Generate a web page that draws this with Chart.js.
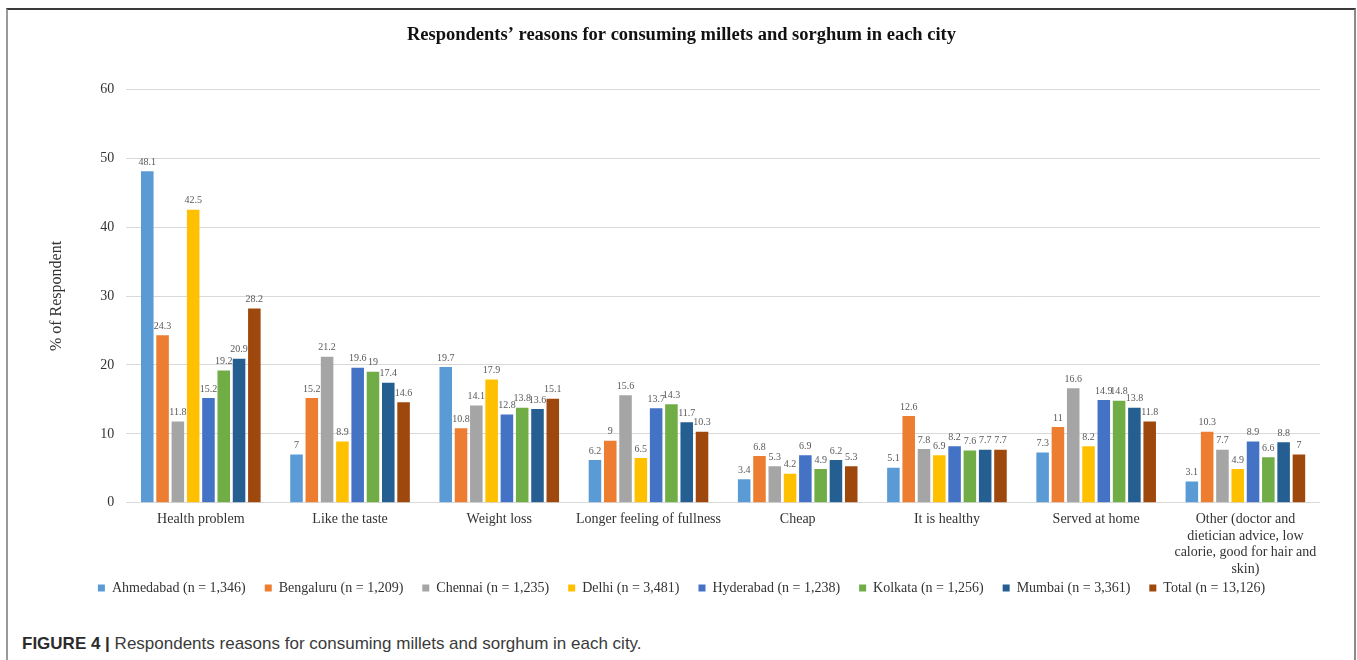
<!DOCTYPE html>
<html>
<head>
<meta charset="utf-8">
<title>Millets and sorghum consumption</title>
<script src="https://cdn.jsdelivr.net/npm/chart.js@4/dist/chart.umd.min.js"></script>
<style>
  html, body { margin: 0; padding: 0; background: #fff; }
  body { width: 1357px; height: 660px; position: relative; overflow: hidden; }
  #frame {
    position: absolute; left: 6px; top: 8px; width: 1346px; height: 660px;
    border-top: 2px solid #3a3a3a; border-left: 2px solid #9a9a9a; border-right: 2px solid #8a8a8a;
  }
  #wrap { position: absolute; left: 8px; top: 10px; width: 1345px; height: 619px; }
  #caption {
    position: absolute; left: 22px; top: 634px;
    font-family: "Liberation Sans", Arial, sans-serif; font-size: 17px; color: #3a3a3a;
  }
  #caption b { color: #2b2b2b; }
</style>
</head>
<body>
<div id="frame"></div>
<div id="wrap"><canvas id="chart"></canvas></div>
<div id="caption"><b>FIGURE 4 |</b> Respondents reasons for consuming millets and sorghum in each city.</div>

<script>
const reasons = [
  'Health problem',
  'Like the taste',
  'Weight loss',
  'Longer feeling of fullness',
  'Cheap',
  'It is healthy',
  'Served at home',
  ['Other (doctor and', 'dietician advice, low', 'calorie, good for hair and', 'skin)']
];

const cities = [
  'Ahmedabad (n = 1,346)',
  'Bengaluru (n = 1,209)',
  'Chennai (n = 1,235)',
  'Delhi (n = 3,481)',
  'Hyderabad (n = 1,238)',
  'Kolkata (n = 1,256)',
  'Mumbai (n = 3,361)',
  'Total (n = 13,126)'
];

const ahmedabad = [48.1, 7, 19.7, 6.2, 3.4, 5.1, 7.3, 3.1];
const bengaluru = [24.3, 15.2, 10.8, 9, 6.8, 12.6, 11, 10.3];
const chennai   = [11.8, 21.2, 14.1, 15.6, 5.3, 7.8, 16.6, 7.7];
const delhi     = [42.5, 8.9, 17.9, 6.5, 4.2, 6.9, 8.2, 4.9];
const hyderabad = [15.2, 19.6, 12.8, 13.7, 6.9, 8.2, 14.9, 8.9];
const kolkata   = [19.2, 19, 13.8, 14.3, 4.9, 7.6, 14.8, 6.6];
const mumbai    = [20.9, 17.4, 13.6, 11.7, 6.2, 7.7, 13.8, 8.8];
const total     = [28.2, 14.6, 15.1, 10.3, 5.3, 7.7, 11.8, 7];

const yTicks = [0, 10, 20, 30, 40, 50, 60];

const colors = ['#5b9bd5', '#ed7d31', '#a5a5a5', '#ffc000', '#4472c4', '#70ad47', '#255e91', '#9e480e'];
const series = [ahmedabad, bengaluru, chennai, delhi, hyderabad, kolkata, mumbai, total];

const serif = '"Liberation Serif", "Times New Roman", serif';

// writes each value just above its bar
const valueLabels = {
  id: 'valueLabels',
  afterDatasetsDraw(chart) {
    const ctx = chart.ctx;
    ctx.save();
    ctx.font = '10px ' + serif;
    ctx.fillStyle = '#595959';
    ctx.textAlign = 'center';
    ctx.textBaseline = 'bottom';
    chart.data.datasets.forEach((ds, i) => {
      chart.getDatasetMeta(i).data.forEach((bar, j) => {
        ctx.fillText(String(ds.data[j]), bar.x, bar.y - 4);
      });
    });
    ctx.restore();
  }
};

// pulls the legend up so it sits right under the wrapped last category label
const legendLift = {
  id: 'legendLift',
  afterLayout(chart) {
    chart.legend.top -= 24;
    chart.legend.bottom -= 24;
  }
};

new Chart(document.getElementById('chart'), {
  type: 'bar',
  data: {
    labels: reasons,
    datasets: series.map((data, i) => ({
      label: cities[i],
      data,
      backgroundColor: colors[i],
      borderWidth: 0,
      categoryPercentage: 0.82,
      barPercentage: 0.82
    }))
  },
  options: {
    responsive: true,
    maintainAspectRatio: false,
    animation: false,
    layout: { padding: { left: 35, right: 33, top: 4, bottom: 0 } },
    plugins: {
      title: {
        display: true,
        text: 'Respondents\u2019 reasons for consuming millets and sorghum in each city',
        font: { family: serif, size: 18.5, weight: 'bold' },
        color: '#111',
        padding: { top: 10, bottom: 43 }
      },
      legend: {
        position: 'bottom',
        labels: {
          boxWidth: 7,
          boxHeight: 7,
          padding: 19,
          color: '#333',
          font: { family: serif, size: 14 }
        }
      },
      tooltip: { enabled: false }
    },
    scales: {
      x: {
        grid: { display: false, drawTicks: false },
        border: { display: false },
        ticks: {
          autoSkip: false,
          maxRotation: 0,
          padding: 8,
          color: '#333',
          font: { family: serif, size: 14 }
        }
      },
      y: {
        min: 0,
        max: 60,
        afterBuildTicks(axis) { axis.ticks = yTicks.map(v => ({ value: v })); },
        grid: { color: '#d9d9d9', drawTicks: false },
        border: { display: false },
        title: {
          display: true,
          text: '% of Respondent',
          font: { family: serif, size: 16 },
          color: '#333',
          padding: { bottom: 22 }
        },
        ticks: {
          padding: 12,
          color: '#333',
          font: { family: serif, size: 14 }
        }
      }
    }
  },
  plugins: [valueLabels, legendLift]
});
</script>
</body>
</html>
